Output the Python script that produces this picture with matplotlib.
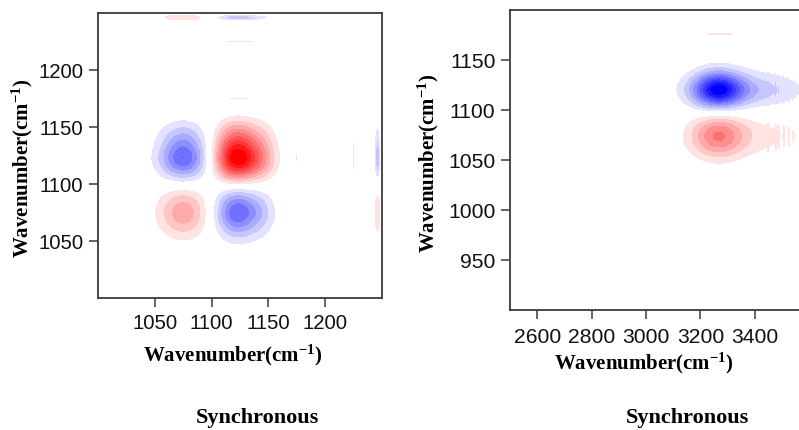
import numpy as np
import matplotlib
matplotlib.use("Agg")
import matplotlib.pyplot as plt
from matplotlib.colors import ListedColormap, BoundaryNorm

# ---------------- data ----------------
# 1000-1250 cm-1 region: band components of the dynamic spectrum
band_centers = [1122, 1144, 1075, 1175, 1211, 1225, 1246]
band_widths = [13, 10, 15, 1.2, 0.8, 1.2, 2.0]
band_amps = [1.0, 0.3, -0.62, -0.13, -0.11, -0.15, -0.3]

# right panel, 900-1200 cm-1 axis
rband_centers = [1120, 1074, 1176]
rband_widths = [13, 15, 1.2]
rband_amps = [-1.0, 0.52, 0.12]

# 2500-3700 cm-1 region: O-H band components
oh_centers = [3262, 3370, 3022, 3449, 3477, 3488, 3507, 3525, 3540, 3551, 3563, 3575]
oh_widths = [65, 140, 1.5, 2.0, 2.0, 1.5, 2.0, 2.0, 1.8, 1.5, 1.5, 1.5]
oh_amps = [1.0, 0.34, -0.11, 0.1, 0.11, 0.1, 0.11, 0.11, 0.1, 0.1, 0.1, 0.1]

left_ticks = [1050, 1100, 1150, 1200]
right_xticks = [2600, 2800, 3000, 3200, 3400]
right_yticks = [950, 1000, 1050, 1100, 1150]
contour_levels = [-1.0, -0.9, -0.8, -0.7, -0.6, -0.5, -0.4, -0.3, -0.2, -0.1,
                  0.1, 0.2, 0.3, 0.4, 0.5, 0.6, 0.7, 0.8, 0.9, 1.0]
axis_label = r'Wavenumber(cm$^{\mathbf{-1}}$)'
panel_title = 'Synchronous'


def spectrum(x, centers, widths, amps):
    s = np.zeros_like(x)
    for c, w, a in zip(centers, widths, amps):
        s += a * np.exp(-(x - c) ** 2 / (2.0 * w ** 2))
    return s


# ---------------- colours ----------------
levels = np.array(contour_levels, dtype=float)
levels[0] -= 1e-3
levels[-1] += 1e-3
nb = 9
cols = []
for k in range(nb, 0, -1):
    t = k / nb
    cols.append((1 - t, 1 - t, 1.0))
cols.append((1.0, 1.0, 1.0))
for k in range(1, nb + 1):
    t = k / nb
    cols.append((1.0, 1 - t, 1 - t))
cmap = ListedColormap(cols)
norm = BoundaryNorm(levels, cmap.N)

plt.rcParams['mathtext.fontset'] = 'custom'
plt.rcParams['mathtext.rm'] = 'Liberation Serif:bold'
plt.rcParams['mathtext.bf'] = 'Liberation Serif:bold'
plt.rcParams['mathtext.it'] = 'Liberation Serif:bold'

W, H = 799, 431
fig = plt.figure(figsize=(W / 100, H / 100), dpi=100)
fig.patch.set_facecolor('white')


def fx(px):
    return px / W


def fy(py):
    return 1 - py / H


spine_col = '#3a3a3a'

# ---------------- left panel ----------------
axL = fig.add_axes([fx(98), fy(299), fx(382) - fx(98), fy(14) - fy(299)])
xg = np.arange(1000, 1250.01, 0.5)
v = spectrum(xg, band_centers, band_widths, band_amps)
Z = np.outer(v, v)
Z = Z / np.abs(Z).max()
axL.contourf(xg, xg, Z, levels=levels, cmap=cmap, norm=norm)
axL.set_xlim(1000, 1250)
axL.set_ylim(1000, 1250)
axL.set_xticks(left_ticks)
axL.set_yticks(left_ticks)

# ---------------- right panel ----------------
axR = fig.add_axes([fx(510), fy(311), (1200 / 200 * 54.4) / W, fy(11) - fy(311)])
xr = np.arange(2500, 3700.01, 1.0)
yr = np.arange(900, 1200.01, 0.5)
w = spectrum(xr, oh_centers, oh_widths, oh_amps)
vr = spectrum(yr, rband_centers, rband_widths, rband_amps)
ZR = np.outer(vr, w)
ZR = ZR / np.abs(ZR).max()
axR.contourf(xr, yr, ZR, levels=levels, cmap=cmap, norm=norm)
axR.set_xlim(2500, 3700)
axR.set_ylim(900, 1200)
axR.set_xticks(right_xticks)
axR.set_yticks(right_yticks)

for ax, fs, xpad in ((axL, 14.7, 4.5), (axR, 15.2, 6)):
    for s in ax.spines.values():
        s.set_color(spine_col)
        s.set_linewidth(1.3)
    ax.tick_params(direction='out', length=6.5, width=1.1, color=spine_col,
                   labelsize=fs, labelcolor='#111111')
    ax.tick_params(axis='x', pad=xpad)
    ax.tick_params(axis='y', pad=4)
    for lab in ax.get_xticklabels() + ax.get_yticklabels():
        lab.set_family('Liberation Sans')

lab_kw = dict(fontsize=15, fontweight='bold', family='Liberation Serif',
              ha='center', va='center', color='black')
fig.text(fx(233), fy(355), axis_label, **lab_kw)
fig.text(fx(644), fy(363), axis_label, **lab_kw)
fig.text(fx(22), fy(168), axis_label, rotation=90, **lab_kw)
fig.text(fx(428), fy(163), axis_label, rotation=90, **lab_kw)
tit_kw = dict(lab_kw)
tit_kw['fontsize'] = 16
fig.text(fx(257), fy(418), panel_title, **tit_kw)
fig.text(fx(687), fy(418), panel_title, **tit_kw)

fig.savefig('out.png', dpi=100, facecolor='white')
